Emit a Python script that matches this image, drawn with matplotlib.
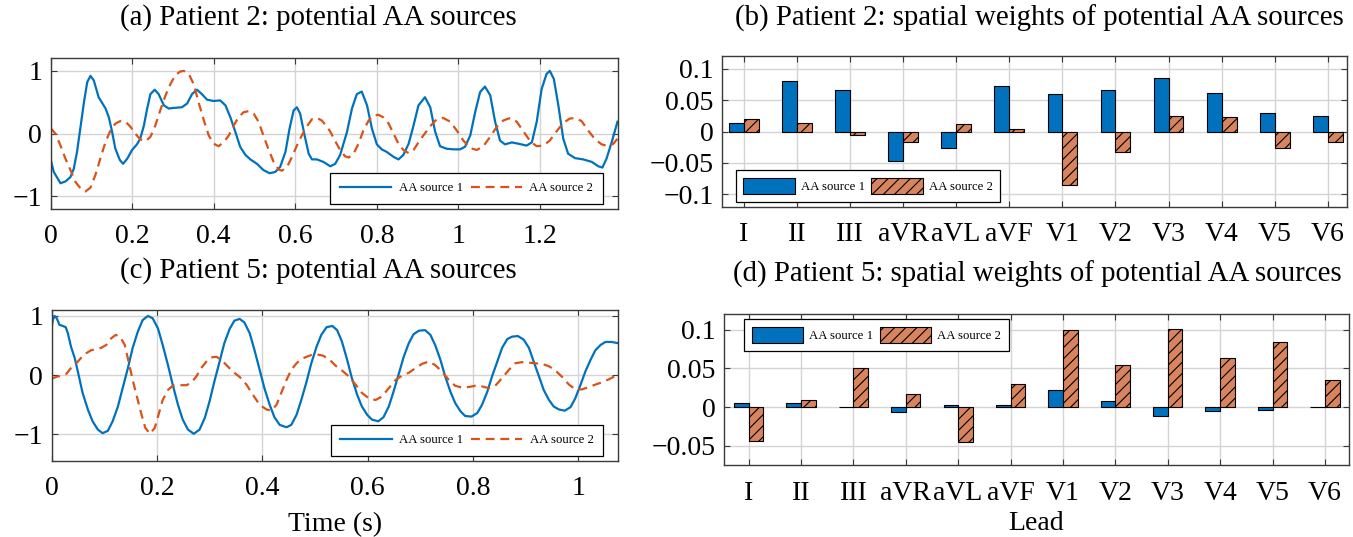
import matplotlib
matplotlib.use('Agg')
import matplotlib.pyplot as plt
import numpy as np

plt.rcParams['font.family'] = ['Liberation Serif', 'DejaVu Serif']
plt.rcParams['hatch.linewidth'] = 0.8

# ---------------- data ----------------
leads = ['I', 'II', 'III', 'aVR', 'aVL', 'aVF', 'V1', 'V2', 'V3', 'V4', 'V5', 'V6']

# Patient 2 spatial weights
p2_w1 = [0.013, 0.081, 0.0665, -0.047, -0.027, 0.073, 0.060, 0.0665, 0.085, 0.061, 0.030, 0.024]
p2_w2 = [0.020, 0.014, -0.005, -0.0165, 0.012, 0.004, -0.0855, -0.033, 0.025, 0.0235, -0.026, -0.017]

# Patient 5 spatial weights
p5_w1 = [0.0056, 0.0056, 0.0005, -0.006, 0.0026, 0.0026, 0.022, 0.0077, -0.0116, -0.0052, -0.0039, 0.0005]
p5_w2 = [-0.0442, 0.0086, 0.0498, 0.0163, -0.0455, 0.0296, 0.100, 0.0545, 0.1004, 0.063, 0.0845, 0.0348]

# Patient 2 sources (time in s)
p2_t1 = [0, 0.008, 0.0245, 0.037, 0.049, 0.057, 0.065, 0.073, 0.082, 0.090, 0.098, 0.106, 0.118, 0.135,
         0.143, 0.151, 0.159, 0.170, 0.178, 0.188, 0.200, 0.212, 0.220, 0.229, 0.237, 0.245, 0.2555, 0.265,
         0.278, 0.290, 0.302, 0.322, 0.335, 0.347, 0.359, 0.371, 0.384, 0.400, 0.416, 0.429, 0.441, 0.453,
         0.465, 0.478, 0.490, 0.506, 0.522, 0.537, 0.551, 0.563, 0.576, 0.586, 0.596, 0.604, 0.612, 0.623,
         0.633, 0.641, 0.653, 0.669, 0.686, 0.698, 0.710, 0.727, 0.739, 0.751, 0.763, 0.776, 0.788, 0.800,
         0.812, 0.824, 0.841, 0.853, 0.865, 0.878, 0.890, 0.902, 0.918, 0.931, 0.943, 0.955, 0.971, 0.988,
         1.004, 1.016, 1.029, 1.041, 1.053, 1.065, 1.078, 1.090, 1.102, 1.114, 1.131, 1.147, 1.167, 1.180,
         1.192, 1.204, 1.216, 1.224, 1.234, 1.245, 1.257, 1.269, 1.286, 1.306, 1.327, 1.343, 1.353, 1.363,
         1.376, 1.390]
p2_s1 = [-0.40, -0.61, -0.79, -0.76, -0.69, -0.56, -0.29, 0.08, 0.50, 0.82, 0.92, 0.85, 0.58, 0.40,
         0.26, 0.03, -0.24, -0.42, -0.48, -0.40, -0.26, -0.17, -0.08, 0.13, 0.40, 0.63, 0.70, 0.63,
         0.45, 0.40, 0.41, 0.42, 0.48, 0.63, 0.70, 0.63, 0.54, 0.52, 0.53, 0.45, 0.26, 0.03,
         -0.21, -0.34, -0.41, -0.48, -0.58, -0.63, -0.61, -0.53, -0.29, 0.08, 0.37, 0.42, 0.32, -0.03,
         -0.32, -0.41, -0.41, -0.45, -0.52, -0.48, -0.34, 0.03, 0.40, 0.63, 0.67, 0.45, 0.08, -0.17,
         -0.25, -0.29, -0.37, -0.41, -0.34, -0.16, 0.13, 0.45, 0.58, 0.42, 0.03, -0.20, -0.24, -0.25,
         -0.25, -0.21, -0.03, 0.34, 0.66, 0.75, 0.61, 0.19, -0.11, -0.17, -0.14, -0.16, -0.19, -0.14,
         0.19, 0.71, 0.95, 1.00, 0.87, 0.45, -0.08, -0.32, -0.39, -0.41, -0.45, -0.52, -0.54, -0.40,
         -0.13, 0.19]

p2_t2 = [0, 0.0122, 0.0245, 0.0367, 0.049, 0.0612, 0.0735, 0.0857, 0.098, 0.110, 0.122, 0.135, 0.147,
         0.159, 0.171, 0.184, 0.196, 0.208, 0.220, 0.233, 0.245, 0.257, 0.269, 0.282, 0.294, 0.306, 0.318,
         0.327, 0.339, 0.351, 0.363, 0.376, 0.388, 0.400, 0.412, 0.424, 0.437, 0.449, 0.461, 0.473, 0.486,
         0.498, 0.510, 0.522, 0.535, 0.547, 0.559, 0.567, 0.580, 0.592, 0.604, 0.616, 0.629, 0.641, 0.653,
         0.665, 0.678, 0.686, 0.698, 0.710, 0.722, 0.731, 0.743, 0.755, 0.767, 0.780, 0.792, 0.804, 0.816,
         0.829, 0.841, 0.853, 0.865, 0.878, 0.890, 0.902, 0.914, 0.931, 0.947, 0.963, 0.980, 0.996, 1.012,
         1.029, 1.045, 1.061, 1.078, 1.094, 1.110, 1.127, 1.143, 1.159, 1.176, 1.192, 1.208, 1.224, 1.241,
         1.257, 1.273, 1.286, 1.302, 1.318, 1.335, 1.351, 1.367, 1.380, 1.390]
p2_s2 = [0.09, 0.00, -0.19, -0.40, -0.58, -0.77, -0.87, -0.92, -0.86, -0.66, -0.40, -0.13, 0.05,
         0.16, 0.20, 0.19, 0.11, 0.00, -0.09, -0.12, -0.05, 0.13, 0.37, 0.61, 0.79, 0.93, 0.99,
         1.00, 0.95, 0.79, 0.50, 0.21, -0.03, -0.16, -0.20, -0.14, -0.03, 0.13, 0.26, 0.34, 0.36,
         0.32, 0.19, -0.03, -0.26, -0.45, -0.57, -0.59, -0.53, -0.37, -0.19, -0.03, 0.12, 0.23, 0.25,
         0.21, 0.11, 0.03, -0.12, -0.26, -0.36, -0.38, -0.32, -0.16, 0.05, 0.21, 0.29, 0.30, 0.26,
         0.16, 0.00, -0.16, -0.26, -0.31, -0.26, -0.14, -0.03, 0.12, 0.23, 0.25, 0.19, 0.05, -0.11,
         -0.23, -0.26, -0.20, -0.05, 0.11, 0.21, 0.25, 0.19, 0.04, -0.12, -0.20, -0.19, -0.11, 0.04,
         0.17, 0.24, 0.25, 0.20, 0.05, -0.09, -0.17, -0.20, -0.16, -0.08]

# Patient 5 sources (time in s)
p5_t1 = [0, 0.0025, 0.0057, 0.010, 0.015, 0.0215, 0.027, 0.031, 0.037, 0.044, 0.050, 0.059, 0.069, 0.078,
         0.088, 0.097, 0.107, 0.116, 0.126, 0.135, 0.145, 0.154, 0.164, 0.173, 0.183, 0.192, 0.202, 0.211,
         0.221, 0.230, 0.240, 0.249, 0.259, 0.270, 0.281, 0.291, 0.300, 0.309, 0.319, 0.328, 0.338, 0.347,
         0.357, 0.366, 0.376, 0.385, 0.395, 0.404, 0.414, 0.423, 0.433, 0.446, 0.455, 0.465, 0.474, 0.484,
         0.493, 0.503, 0.512, 0.522, 0.533, 0.542, 0.551, 0.561, 0.570, 0.580, 0.589, 0.599, 0.608, 0.620,
         0.630, 0.640, 0.649, 0.659, 0.668, 0.678, 0.687, 0.697, 0.709, 0.719, 0.728, 0.738, 0.747, 0.757,
         0.766, 0.776, 0.785, 0.797, 0.808, 0.817, 0.827, 0.836, 0.846, 0.855, 0.865, 0.874, 0.885, 0.896,
         0.906, 0.915, 0.925, 0.934, 0.944, 0.953, 0.963, 0.974, 0.985, 0.994, 1.004, 1.013, 1.023, 1.032,
         1.042, 1.051, 1.063, 1.075]
p5_s1 = [0.79, 0.93, 1.00, 0.96, 0.85, 0.83, 0.81, 0.71, 0.48, 0.29, 0.06, -0.30, -0.58, -0.78,
         -0.92, -0.98, -0.94, -0.78, -0.53, -0.22, 0.12, 0.46, 0.74, 0.93, 1.00, 0.96, 0.79, 0.51,
         0.17, -0.16, -0.50, -0.75, -0.92, -0.99, -0.92, -0.72, -0.44, -0.11, 0.23, 0.54, 0.78, 0.92,
         0.95, 0.89, 0.71, 0.43, 0.09, -0.22, -0.50, -0.71, -0.84, -0.88, -0.84, -0.67, -0.42, -0.11,
         0.20, 0.48, 0.68, 0.81, 0.83, 0.76, 0.57, 0.26, -0.05, -0.33, -0.53, -0.67, -0.75, -0.78,
         -0.71, -0.53, -0.28, 0.02, 0.30, 0.54, 0.69, 0.75, 0.76, 0.68, 0.51, 0.26, -0.02, -0.28,
         -0.47, -0.61, -0.69, -0.70, -0.64, -0.50, -0.28, -0.02, 0.23, 0.46, 0.61, 0.65, 0.66, 0.60,
         0.46, 0.23, -0.02, -0.25, -0.42, -0.53, -0.58, -0.60, -0.54, -0.39, -0.16, 0.06, 0.26, 0.42,
         0.51, 0.56, 0.56, 0.54]

p5_t2 = [0, 0.009, 0.018, 0.028, 0.037, 0.047, 0.056, 0.066, 0.075, 0.085, 0.094, 0.104, 0.113, 0.122,
         0.130, 0.139, 0.147, 0.154, 0.162, 0.170, 0.178, 0.187, 0.196, 0.204, 0.211, 0.221, 0.230, 0.243,
         0.256, 0.265, 0.275, 0.284, 0.294, 0.303, 0.313, 0.322, 0.332, 0.344, 0.357, 0.370, 0.382, 0.395,
         0.408, 0.417, 0.427, 0.436, 0.446, 0.455, 0.465, 0.474, 0.484, 0.493, 0.503, 0.515, 0.527, 0.539,
         0.551, 0.564, 0.577, 0.589, 0.602, 0.615, 0.627, 0.640, 0.653, 0.665, 0.678, 0.691, 0.703, 0.716,
         0.728, 0.741, 0.754, 0.766, 0.779, 0.792, 0.804, 0.817, 0.830, 0.842, 0.855, 0.868, 0.880, 0.893,
         0.906, 0.918, 0.931, 0.944, 0.956, 0.969, 0.982, 0.994, 1.007, 1.020, 1.032, 1.045, 1.058, 1.075]
p5_s2 = [-0.06, -0.03, -0.01, 0.02, 0.12, 0.20, 0.29, 0.37, 0.42, 0.44, 0.46, 0.51, 0.62, 0.68,
         0.65, 0.51, 0.20, -0.08, -0.36, -0.64, -0.89, -0.99, -0.89, -0.64, -0.42, -0.25, -0.18, -0.17,
         -0.17, -0.13, -0.02, 0.12, 0.23, 0.30, 0.31, 0.26, 0.17, 0.06, -0.03, -0.16, -0.33, -0.50,
         -0.58, -0.60, -0.50, -0.30, -0.08, 0.09, 0.20, 0.27, 0.31, 0.34, 0.35, 0.33, 0.27, 0.16,
         0.08, -0.02, -0.16, -0.30, -0.39, -0.42, -0.36, -0.22, -0.08, -0.01, 0.04, 0.12, 0.19, 0.23,
         0.17, 0.06, -0.08, -0.18, -0.21, -0.20, -0.18, -0.19, -0.22, -0.18, -0.05, 0.09, 0.20, 0.22,
         0.21, 0.20, 0.19, 0.15, 0.08, -0.03, -0.16, -0.24, -0.24, -0.20, -0.16, -0.12, -0.07, 0.01]

time_ticks_a = [0, 0.2, 0.4, 0.6, 0.8, 1.0, 1.2]
time_labels_a = ['0', '0.2', '0.4', '0.6', '0.8', '1', '1.2']
time_ticks_c = [0, 0.2, 0.4, 0.6, 0.8, 1.0]
time_labels_c = ['0', '0.2', '0.4', '0.6', '0.8', '1']
amp_ticks = [-1, 0, 1]
amp_labels = ['\u22121', '0', '1']
w_ticks_b = [-0.1, -0.05, 0, 0.05, 0.1]
w_labels_b = ['\u22120.1', '\u22120.05', '0', '0.05', '0.1']
w_ticks_d = [-0.05, 0, 0.05, 0.1]
w_labels_d = ['\u22120.05', '0', '0.05', '0.1']

titles = ['(a) Patient 2: potential AA sources',
          '(b) Patient 2: spatial weights of potential AA sources',
          '(c) Patient 5: potential AA sources',
          '(d) Patient 5: spatial weights of potential AA sources']
series_names = ['AA source 1', 'AA source 2']

# ---------------- style ----------------
BLUE = '#0072BD'
ORANGE = '#D95319'
ORANGE_FILL = '#D8845E'
GRID = '#d4d4d4'
SPINE = '#3a3a3a'
TICKFS = 20
TITLEFS = 20.8
LEGFS = 9.2

W, H = 1353, 537
fig = plt.figure(figsize=(W / 100, H / 100), dpi=100)


def ax_px(l, r, t, b):
    return fig.add_axes([l / W, 1 - b / H, (r - l) / W, (b - t) / H])


def style(ax):
    ax.grid(True, color=GRID, lw=1.0)
    ax.set_axisbelow(True)
    for s in ax.spines.values():
        s.set_color(SPINE)
        s.set_linewidth(1.0)
    ax.tick_params(direction='in', length=4, width=0.8, color=SPINE,
                   top=True, right=True, labelsize=TICKFS)
    ax.tick_params(axis='x', pad=11)
    ax.tick_params(axis='y', pad=6)


def line_panel(ax, t1, s1, t2, s2, xmax, ylim, xt, xl):
    style(ax)
    ax.plot(t1, s1, color=BLUE, lw=1.6, label=series_names[0])
    ax.plot(t2, s2, color=ORANGE, lw=1.6, ls=(0, (4, 2.6)), label=series_names[1])
    ax.set_xlim(0, xmax)
    ax.set_ylim(*ylim)
    ax.set_xticks(xt)
    ax.set_xticklabels(xl)
    ax.set_yticks(amp_ticks)
    ax.set_yticklabels(amp_labels)
    leg = ax.legend(loc='lower right', bbox_to_anchor=(0.974, 0.033), ncol=2, fontsize=LEGFS,
                    frameon=True, fancybox=False, edgecolor='black', framealpha=1,
                    handlelength=4.0, columnspacing=0.6, handletextpad=0.6,
                    borderpad=0.75, borderaxespad=0)
    leg.get_frame().set_linewidth(0.9)


def bar_panel(ax, w1, w2, xlim, ylim, yt, yl, loc, anchor):
    style(ax)
    x = np.arange(len(leads))
    bw = 0.28
    ax.bar(x - bw / 2, w1, bw, color=BLUE, edgecolor='black', lw=0.8, label=series_names[0])
    ax.bar(x + bw / 2, w2, bw, color=ORANGE_FILL, edgecolor='black', lw=0.8, hatch='///',
           label=series_names[1])
    ax.set_xlim(*xlim)
    ax.set_ylim(*ylim)
    ax.set_xticks(x)
    ax.set_xticklabels(leads)
    ax.set_yticks(yt)
    ax.set_yticklabels(yl)
    leg = ax.legend(loc=loc, bbox_to_anchor=anchor, ncol=2, fontsize=LEGFS,
                    frameon=True, fancybox=False, edgecolor='black', framealpha=1,
                    handlelength=4.0, handleheight=1.6, columnspacing=0.5, handletextpad=0.5,
                    borderpad=0.6, borderaxespad=0)
    leg.get_frame().set_linewidth(0.9)


ax_a = ax_px(50.5, 617.5, 58.3, 209)
line_panel(ax_a, p2_t1, p2_s1, p2_t2, p2_s2, 1.39, (-1.2, 1.2), time_ticks_a, time_labels_a)

ax_c = ax_px(51.5, 618, 310, 461)
line_panel(ax_c, p5_t1, p5_s1, p5_t2, p5_s2, 1.075, (-1.45, 1.1), time_ticks_c, time_labels_c)
ax_c.set_xlabel('Time (s)', fontsize=TICKFS, labelpad=8)

ax_b = ax_px(722, 1347, 56, 207)
bar_panel(ax_b, p2_w1, p2_w2, (-0.41, 11.36), (-0.12, 0.12), w_ticks_b, w_labels_b,
          'lower left', (0.022, 0.033))

ax_d = ax_px(724, 1349, 314, 465.3)
bar_panel(ax_d, p5_w1, p5_w2, (-0.47, 11.46), (-0.075, 0.12), w_ticks_d, w_labels_d,
          'upper left', (0.032, 0.967))
ax_d.set_xlabel('Lead', fontsize=TICKFS, labelpad=4)

fig.text(318 / W, 1 - 18 / H, titles[0], ha='center', va='center', fontsize=TITLEFS)
fig.text(1039 / W, 1 - 18 / H, titles[1], ha='center', va='center', fontsize=TITLEFS)
fig.text(318 / W, 1 - 271 / H, titles[2], ha='center', va='center', fontsize=TITLEFS)
fig.text(1037 / W, 1 - 274 / H, titles[3], ha='center', va='center', fontsize=TITLEFS)

fig.savefig('out.png', dpi=100)
